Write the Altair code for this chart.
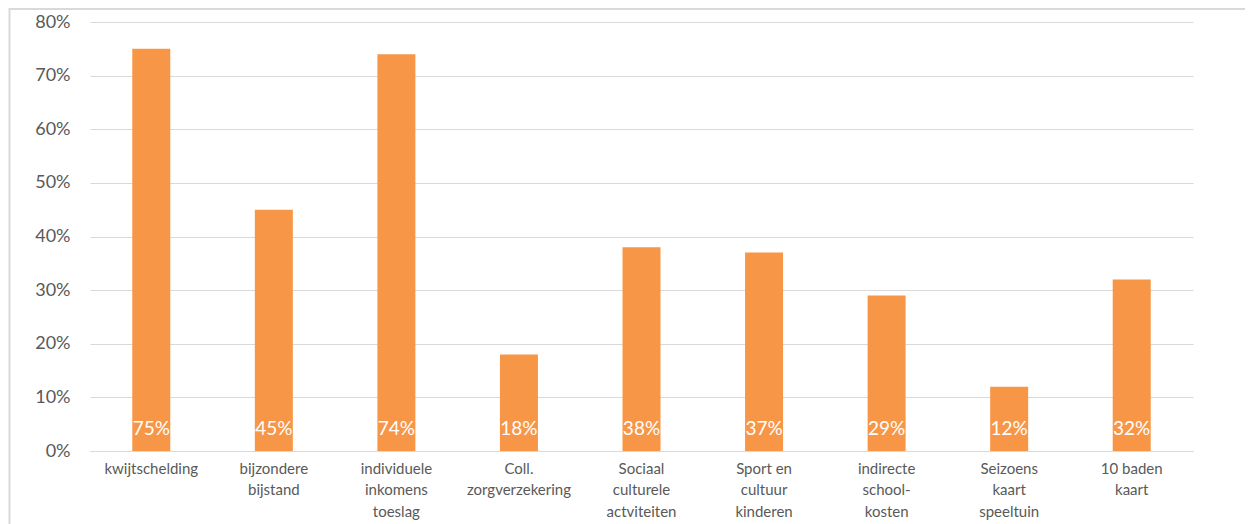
import altair as alt
import pandas as pd

categories = [
    "kwijtschelding",
    "bijzondere|bijstand",
    "individuele|inkomens|toeslag",
    "Coll.|zorgverzekering",
    "Sociaal|culturele|actviteiten",
    "Sport en|cultuur|kinderen",
    "indirecte|school-|kosten",
    "Seizoens|kaart|speeltuin",
    "10 baden|kaart",
]
values = [75, 45, 74, 18, 38, 37, 29, 12, 32]
y_ticks = [0, 10, 20, 30, 40, 50, 60, 70, 80]

df = pd.DataFrame({"cat": categories, "val": values})
df["lbl"] = df["val"].astype(str) + "%"

FONT = "Lato"
GREY = "#595959"
LINE = "#d9d9d9"
W, H = 1103, 429

x = alt.X(
    "cat:N",
    sort=None,
    scale=alt.Scale(paddingInner=0.69, paddingOuter=0.345),
    axis=alt.Axis(
        title=None,
        labelAngle=0,
        labelExpr="split(datum.label, '|')",
        labelFontSize=15,
        labelColor=GREY,
        labelFont=FONT,
        labelPadding=10,
        labelLineHeight=21.5,
        labelBaseline="top",
        ticks=False,
        domainColor=LINE,
        domainWidth=1,
    ),
)
y = alt.Y(
    "val:Q",
    scale=alt.Scale(domain=[0, 80], nice=False),
    axis=alt.Axis(
        title=None,
        values=y_ticks,
        labelExpr="datum.value + '%'",
        labelFontSize=18,
        labelColor=GREY,
        labelFont=FONT,
        labelPadding=20,
        ticks=False,
        domain=False,
        gridColor=LINE,
        gridWidth=1,
    ),
)

base = alt.Chart(df)
bars = base.mark_bar(color="#F79646").encode(x=x, y=y)
texts = base.mark_text(
    color="white", font=FONT, fontSize=19, baseline="alphabetic", dy=-16
).encode(x=alt.X("cat:N", sort=None), y=alt.datum(0), text="lbl:N")

border = alt.Chart(alt.Data(values=[{"a": 1}])).mark_rect(
    fill=None, stroke=LINE, strokeWidth=2
).encode(
    x=alt.value(-80.5), x2=alt.value(W + 300), y=alt.value(-13), y2=alt.value(H + 300)
)

chart = (
    alt.layer(border, bars, texts)
    .properties(
        width=W,
        height=H,
        autosize=alt.AutoSizeParams(type="none"),
        padding={"left": 82, "top": 14, "right": 52, "bottom": 73},
    )
    .configure_view(stroke=None)
)

chart.save("out.html", embed_options={"renderer": "svg", "actions": False})
